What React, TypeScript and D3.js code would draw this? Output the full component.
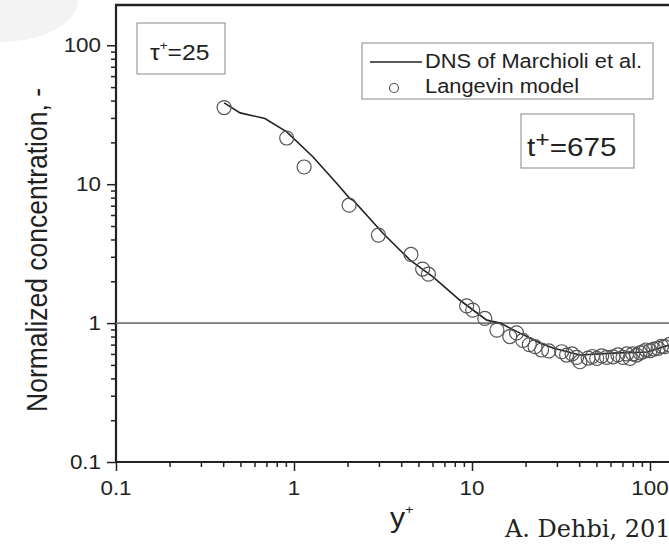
import React, { useEffect, useRef } from 'react'
import * as d3 from 'd3'

// DNS of Marchioli et al. (solid line)
const dnsX = [0.405, 0.498, 0.687, 0.91, 1.28, 1.74, 2.06, 2.15, 3.17, 4.49, 6.04, 8.56, 12.1, 14.4, 18.6, 24.1, 28.5, 40.4, 62, 96.2, 128, 160]
const dnsY = [38.5, 32.6, 29.7, 23.8, 15.7, 10.1, 7.89, 7.67, 4.42, 2.84, 2.15, 1.46, 1.05, 1.0, 0.847, 0.718, 0.661, 0.589, 0.608, 0.619, 0.695, 0.75]

// Langevin model (open circles)
const langX = [0.405, 0.91, 1.14, 2.04, 2.98, 4.54, 5.28, 5.69, 9.33, 10.1, 11.8, 13.8, 16.3, 17.8, 19.3, 21.0, 22.6, 24.6, 27.0, 31.9, 34.0, 36.5, 38.7, 40.4, 44.9, 47.5, 50.2, 53.5, 57.1, 62, 66, 70.5, 74, 77.2, 80, 84.2, 88, 91.4, 95, 100, 105, 111, 116, 121, 128]
const langY = [35.6, 21.5, 13.3, 7.06, 4.3, 3.12, 2.45, 2.25, 1.33, 1.24, 1.08, 0.89, 0.8, 0.85, 0.75, 0.7, 0.676, 0.64, 0.63, 0.622, 0.589, 0.6, 0.566, 0.527, 0.56, 0.575, 0.557, 0.58, 0.566, 0.572, 0.59, 0.566, 0.6, 0.557, 0.6, 0.589, 0.61, 0.622, 0.64, 0.633, 0.65, 0.657, 0.68, 0.676, 0.7]

const xTicks = [0.1, 1, 10, 100, 1000]
const xTickLabels = ['0.1', '1', '10', '100', '1000']
const yTicks = [0.1, 1, 10, 100]
const yTickLabels = ['0.1', '1', '10', '100']

const W = 669
const H = 545
const SANS = '"Liberation Sans", Arial, sans-serif'
const SX = 1.12 // the original picture is a little stretched sideways

const x = d3.scaleLog().domain([0.1, 1000]).range([116, 828])
const y = d3.scaleLog().domain([0.1, 195]).range([462, 5])

const minors = (majors: number[], dom: number[]) =>
  majors.flatMap((d) => d3.range(2, 10).map((k) => d * k)).filter((v) => v > dom[0] && v < dom[1])

const App = () => {
  const ref = useRef<SVGSVGElement>(null)

  useEffect(() => {
    const svg = d3.select(ref.current)
    svg.selectAll('*').remove()

    // faint smudge in the corner of the scan
    svg.append('ellipse').attr('cx', 0).attr('cy', 0).attr('rx', 78).attr('ry', 42).attr('fill', '#f3f3f3')

    const text = (px: number, py: number, size: number, anchor = 'start', rot = 0) =>
      svg
        .append('text')
        .attr('transform', `translate(${px},${py}) scale(${SX},1)${rot ? ` rotate(${rot})` : ''}`)
        .attr('font-family', SANS)
        .attr('font-size', size)
        .attr('fill', '#222')
        .attr('text-anchor', anchor)

    // ticks
    const xAxis = svg.append('g').attr('transform', `translate(0,${y(0.1)})`)
    xAxis.call(d3.axisBottom(x).tickValues(xTicks).tickSize(9).tickFormat(() => ''))
    xAxis.append('g').call(d3.axisBottom(x).tickValues(minors(xTicks, x.domain())).tickSize(5).tickFormat(() => ''))
    const yAxis = svg.append('g').attr('transform', `translate(${x(0.1)},0)`)
    yAxis.call(d3.axisLeft(y).tickValues(yTicks).tickSize(9).tickFormat(() => ''))
    yAxis.append('g').call(d3.axisLeft(y).tickValues(minors(yTicks, y.domain())).tickSize(5).tickFormat(() => ''))
    svg.selectAll('.domain').remove()
    svg.selectAll('.tick line').attr('stroke', '#222').attr('stroke-width', 1.5)

    // frame
    svg.append('line').attr('x1', x(0.1)).attr('x2', W).attr('y1', y(0.1)).attr('y2', y(0.1)).attr('stroke', '#222').attr('stroke-width', 2.2)
    svg.append('line').attr('x1', x(0.1)).attr('x2', x(0.1)).attr('y1', y(0.1) + 1).attr('y2', 4).attr('stroke', '#222').attr('stroke-width', 2.2)
    svg.append('line').attr('x1', x(0.1) - 1).attr('x2', W).attr('y1', 5).attr('y2', 5).attr('stroke', '#222').attr('stroke-width', 2.4)

    // reference line at 1
    svg.append('line').attr('x1', x(0.1)).attr('x2', W).attr('y1', y(1)).attr('y2', y(1)).attr('stroke', '#777').attr('stroke-width', 1.8)

    // tick labels
    xTicks.forEach((v, i) => text(x(v), y(0.1) + 33, 20, 'middle').text(xTickLabels[i]))
    yTicks.forEach((v, i) => text(x(0.1) - 15, y(v) + 7, 20, 'end').text(yTickLabels[i]))

    // axis titles
    text(47, 250, 26.5, 'middle', -90).text('Normalized concentration, -')
    const yp = text(390, 527, 27)
    yp.append('tspan').text('y')
    yp.append('tspan').attr('font-size', 13).attr('dy', -13).text('+')

    // credit
    svg
      .append('text')
      .attr('x', 505)
      .attr('y', 537)
      .attr('font-family', '"DejaVu Serif", serif')
      .attr('font-size', 24)
      .attr('fill', '#222')
      .text('A. Dehbi, 2010')

    // data
    const line = d3
      .line<number>()
      .x((d, i) => x(dnsX[i]))
      .y((d) => y(d))
    svg.append('path').datum(dnsY).attr('d', line).attr('fill', 'none').attr('stroke', '#222').attr('stroke-width', 1.6)

    svg
      .append('g')
      .selectAll('circle')
      .data(langY)
      .join('circle')
      .attr('cx', (d, i) => x(langX[i]))
      .attr('cy', (d) => y(d))
      .attr('r', 7)
      .attr('fill', 'none')
      .attr('stroke', '#555')
      .attr('stroke-width', 1.2)

    // tau box
    svg.append('rect').attr('x', 137).attr('y', 23).attr('width', 88).attr('height', 51).attr('fill', 'white').attr('stroke', '#888').attr('stroke-width', 1)
    const tau = text(150, 60, 22)
    tau.append('tspan').text('τ')
    tau.append('tspan').attr('font-size', 12).attr('dy', -10).text('+')
    tau.append('tspan').attr('dy', 10).text('=25')

    // legend
    svg.append('rect').attr('x', 362).attr('y', 43).attr('width', 291).attr('height', 56).attr('fill', 'white').attr('stroke', '#888').attr('stroke-width', 1)
    svg.append('line').attr('x1', 370).attr('x2', 422).attr('y1', 62).attr('y2', 62).attr('stroke', '#222').attr('stroke-width', 1.6)
    text(425, 67.5, 19.5).text('DNS of Marchioli et al.')
    svg.append('circle').attr('cx', 394).attr('cy', 88).attr('r', 4.5).attr('fill', 'none').attr('stroke', '#555').attr('stroke-width', 1.2)
    text(425, 93, 19.5).text('Langevin model')

    // time box
    svg.append('rect').attr('x', 521).attr('y', 114).attr('width', 113).attr('height', 54).attr('fill', 'white').attr('stroke', '#888').attr('stroke-width', 1)
    const tp = text(527, 156, 26.5)
    tp.append('tspan').text('t')
    tp.append('tspan').attr('font-size', 22).attr('dy', -9).text('+')
    tp.append('tspan').attr('dy', 9).text('=675')
  })

  return (
    <svg
      ref={ref}
      width={W}
      height={H}
      style={{ position: 'absolute', left: 0, top: 0, background: 'white' }}
    ></svg>
  )
}

export default App
